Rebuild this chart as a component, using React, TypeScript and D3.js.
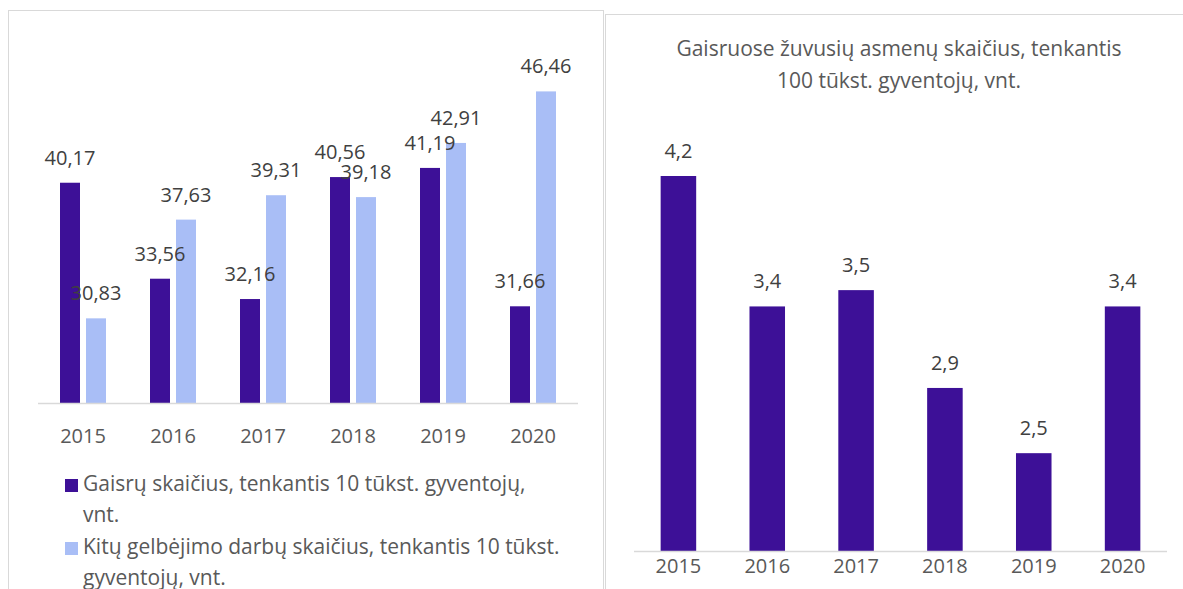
import { useEffect, useRef } from "react";
import * as d3 from "d3";

const years = ["2015", "2016", "2017", "2018", "2019", "2020"];
const fires = [40.17, 33.56, 32.16, 40.56, 41.19, 31.66];
const rescues = [30.83, 37.63, 39.31, 39.18, 42.91, 46.46];
const deaths = [4.2, 3.4, 3.5, 2.9, 2.5, 3.4];
const legendLines = [
    ["Gaisrų skaičius, tenkantis 10 tūkst. gyventojų,", "vnt."],
    ["Kitų gelbėjimo darbų skaičius, tenkantis 10 tūkst.", "gyventojų, vnt."],
];
const titleLines = ["Gaisruose žuvusių asmenų skaičius, tenkantis", "100 tūkst. gyventojų, vnt."];

const DARK = "#3d1097";
const LIGHT = "#a9bef6";
const FONT = "Open Sans, sans-serif";

const fmt = (v: number) => String(v).replace(".", ",");

const App = () => {
    const chartRef = useRef<SVGSVGElement | null>(null);

    useEffect(() => {
        const svg = d3.select(chartRef.current);
        svg.selectAll("*").remove();

        // panel frames
        svg.append("rect")
            .attr("x", 8.5).attr("y", 10.5).attr("width", 595).attr("height", 600)
            .attr("fill", "white").attr("stroke", "#d9d9d9");
        svg.append("rect")
            .attr("x", 605.5).attr("y", 14.5).attr("width", 600).attr("height", 600)
            .attr("fill", "white").attr("stroke", "#d9d9d9");

        // ---- left chart ----
        const left = svg.append("g");
        const x0 = d3.scaleBand().domain(years).range([38, 578]);
        const x1 = d3.scaleBand()
            .domain(["fires", "rescues"])
            .range([x0.bandwidth() / 2 - 23, x0.bandwidth() / 2 + 23])
            .paddingInner(0.2308);
        const yL = d3.scaleLinear().domain([25, 50]).range([403, 40]);

        const groups = years.map((yr, i) => ({
            year: yr,
            vals: [
                { key: "fires", v: fires[i], c: DARK },
                { key: "rescues", v: rescues[i], c: LIGHT },
            ],
        }));

        const g = left.selectAll(".grp")
            .data(groups)
            .enter()
            .append("g")
            .attr("transform", d => `translate(${x0(d.year)},0)`);

        g.selectAll("rect")
            .data(d => d.vals)
            .enter()
            .append("rect")
            .attr("x", d => x1(d.key)!)
            .attr("y", d => yL(d.v))
            .attr("width", x1.bandwidth())
            .attr("height", d => yL.range()[0] - yL(d.v))
            .attr("fill", d => d.c);

        g.selectAll("text")
            .data(d => d.vals)
            .enter()
            .append("text")
            .attr("x", d => x1(d.key)! + x1.bandwidth() / 2)
            .attr("y", d => yL(d.v) - 18)
            .attr("text-anchor", "middle")
            .style("font-family", FONT)
            .style("font-size", "20px")
            .style("fill", "#404040")
            .text(d => fmt(d.v));

        left.append("line")
            .attr("x1", 38).attr("x2", 578)
            .attr("y1", 403.5).attr("y2", 403.5)
            .attr("stroke", "#d9d9d9").attr("stroke-width", 1.5);

        left.selectAll(".yr")
            .data(years)
            .enter()
            .append("text")
            .attr("x", d => x0(d)! + x0.bandwidth() / 2)
            .attr("y", 443)
            .attr("text-anchor", "middle")
            .style("font-family", FONT)
            .style("font-size", "20px")
            .style("fill", "#595959")
            .text(d => d);

        // legend
        const legendColors = [DARK, LIGHT];
        const legendTop = [479, 542];
        legendLines.forEach((lines, i) => {
            left.append("rect")
                .attr("x", 65).attr("y", legendTop[i])
                .attr("width", 13).attr("height", 13)
                .attr("fill", legendColors[i]);
            lines.forEach((ln, j) => {
                left.append("text")
                    .attr("x", 83)
                    .attr("y", legendTop[i] + 12 + j * 31)
                    .style("font-family", FONT)
                    .style("font-size", "21px")
                    .style("fill", "#595959")
                    .text(ln);
            });
        });

        // ---- right chart ----
        const right = svg.append("g");
        const xR = d3.scaleBand().domain(years).range([634, 1167]).paddingInner(0.6).paddingOuter(0.3);
        const yR = d3.scaleLinear().domain([1.9, 4.2]).range([551, 176]);

        right.selectAll(".bar")
            .data(deaths)
            .enter()
            .append("rect")
            .attr("x", (d, i) => xR(years[i])!)
            .attr("y", d => yR(d))
            .attr("width", xR.bandwidth())
            .attr("height", d => yR.range()[0] - yR(d))
            .attr("fill", DARK);

        right.selectAll(".lbl")
            .data(deaths)
            .enter()
            .append("text")
            .attr("x", (d, i) => xR(years[i])! + xR.bandwidth() / 2)
            .attr("y", d => yR(d) - 18)
            .attr("text-anchor", "middle")
            .style("font-family", FONT)
            .style("font-size", "20px")
            .style("fill", "#404040")
            .text(d => fmt(d));

        right.append("line")
            .attr("x1", 634).attr("x2", 1167)
            .attr("y1", 551.5).attr("y2", 551.5)
            .attr("stroke", "#d9d9d9").attr("stroke-width", 1.5);

        right.selectAll(".yr")
            .data(years)
            .enter()
            .append("text")
            .attr("x", d => xR(d)! + xR.bandwidth() / 2)
            .attr("y", 573)
            .attr("text-anchor", "middle")
            .style("font-family", FONT)
            .style("font-size", "20px")
            .style("fill", "#595959")
            .text(d => d);

        titleLines.forEach((t, i) => {
            right.append("text")
                .attr("x", 899)
                .attr("y", 56 + i * 32)
                .attr("text-anchor", "middle")
                .style("font-family", FONT)
                .style("font-size", "21px")
                .style("fill", "#595959")
                .text(t);
        });

        return () => {
            d3.select(chartRef.current).selectAll("*").remove();
        };
    }, []);

    return (
        <svg
            ref={chartRef}
            width={1183}
            height={589}
            style={{ position: "absolute", left: 0, top: 0, background: "white" }}
        ></svg>
    );
};

export default App;
